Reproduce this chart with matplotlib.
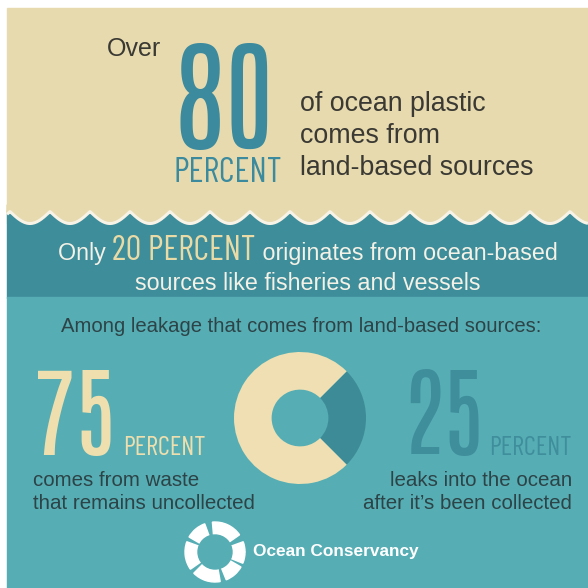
import numpy as np
import matplotlib
matplotlib.use("Agg")
import matplotlib.pyplot as plt
from matplotlib.patches import Rectangle, Polygon, Wedge, Circle
from matplotlib.textpath import TextPath
from matplotlib.font_manager import FontProperties

# headline figures
land_share = 80
ocean_share = 20
# split of land-based leakage
leak_labels = ["uncollected", "collected"]
leak_values = [75, 25]

head_lines = ["of ocean plastic", "comes from", "land-based sources"]
band_lines = ["originates from ocean-based", "sources like fisheries and vessels"]
among_text = "Among leakage that comes from land-based sources:"
left_lines = ["comes from waste", "that remains uncollected"]
right_lines = ["leaks into the ocean", "after it\u2019s been collected"]

BEIGE = "#e7daae"
DARK = "#3e8d9b"
LIGHT = "#56aeb4"
BLUE80 = "#3b8a9e"
INK = "#3a3933"
INK2 = "#2c4347"
CREAM = "#efdfae"
TEAL25 = "#3f8e9c"

NUM = ["Antonio", "DejaVu Sans"]
COND = ["Barlow Condensed", "DejaVu Sans"]
SANS = ["Liberation Sans", "DejaVu Sans"]


def ink(s, family, weight="normal"):
    tp = TextPath((0, 0), s, size=100, prop=FontProperties(family=family, weight=weight))
    return tp.get_extents()


def size_for_height(s, px, family=COND, weight="normal"):
    return px * 0.72 * 100 / ink(s, family, weight).height


def size_for_width(s, px, family=SANS, weight="normal"):
    return px * 0.72 * 100 / ink(s, family, weight).width


fig = plt.figure(figsize=(5.88, 5.88), dpi=100)
fig.patch.set_facecolor("white")
ax = fig.add_axes([0, 0, 1, 1])
ax.set_xlim(0, 588)
ax.set_ylim(588, 0)
ax.axis("off")

# backgrounds
ax.add_patch(Rectangle((7, 8), 581, 215, color=BEIGE, zorder=0))
ax.add_patch(Rectangle((7, 210), 581, 88, color=DARK, zorder=0))
ax.add_patch(Rectangle((7, 297), 581, 291, color=LIGHT, zorder=0))

# scalloped edge of the beige panel
wx = np.linspace(7, 588, 800)
wy = 210 + 12 * np.abs(np.sin(np.pi * (wx - 10) / 40))
ax.add_patch(Polygon(np.column_stack([np.r_[wx, 588, 7], np.r_[wy, 205, 205]]),
                     closed=True, color=BEIGE, zorder=1))
ax.plot(wx, wy + 1.5, color="#f7f3e6", lw=2.2, zorder=2, solid_capstyle="butt")

# top block
ax.text(107, 56, "Over", fontsize=18, family=SANS, color=INK, va="baseline")
f80 = size_for_height(str(land_share), 106, family=NUM)
ax.text(174, 148, str(land_share), fontsize=f80, family=NUM, color=BLUE80, va="baseline")
fp = size_for_width("PERCENT", 105, family=COND)
ax.text(174, 182, "PERCENT", fontsize=fp, family=COND, color=BLUE80, va="baseline")
fh = size_for_width(head_lines[0], 184)
for i, line in enumerate(head_lines):
    ax.text(300, 111 + 32 * i, line, fontsize=fh, family=SANS, color=INK, va="baseline")

# band text, first line built from pieces
fig.canvas.draw()
renderer = fig.canvas.get_renderer()
fb = size_for_width(band_lines[1], 343)
pieces = [("Only ", SANS, fb, "#f4f1e6"),
          (f"{ocean_share} PERCENT", COND, size_for_width("20 PERCENT", 141, family=COND),
           "#eadba6"),
          (" " + band_lines[0], SANS, fb, "#f4f1e6")]
texts = []
for s, fam, fs, col in pieces:
    texts.append(ax.text(0, 260, s, fontsize=fs, family=fam, color=col, va="baseline"))
widths = [t.get_window_extent(renderer).width for t in texts]
x = 308 - sum(widths) / 2
for t, w in zip(texts, widths):
    t.set_x(x)
    x += w
ax.text(308, 290, band_lines[1], fontsize=fb, family=SANS, color="#f4f1e6",
        ha="center", va="baseline")

# lower panel
fa = size_for_width(among_text, 478)
ax.text(301, 332, among_text, fontsize=fa, family=SANS, color=INK2, ha="center", va="baseline")

f75 = size_for_height("75", 85, family=NUM)
ax.text(34, 455, str(leak_values[0]), fontsize=f75, family=NUM, color=CREAM, va="baseline")
fps = size_for_width("PERCENT", 80, family=COND)
ax.text(123, 455, "PERCENT", fontsize=fps, family=COND, color=CREAM, va="baseline")
ax.text(402, 455, str(leak_values[1]), fontsize=f75, family=NUM, color=TEAL25, va="baseline")
ax.text(572, 455, "PERCENT", fontsize=fps, family=COND, color=TEAL25, ha="right", va="baseline")

fl = size_for_width(left_lines[1], 220)
for i, line in enumerate(left_lines):
    ax.text(33, 486 + 23 * i, line, fontsize=fl, family=SANS, color=INK2, va="baseline")
for i, line in enumerate(right_lines):
    ax.text(572, 486 + 23 * i, line, fontsize=fl, family=SANS, color=INK2,
            ha="right", va="baseline")

# donut
cx, cy, r = 300, 418, 66
dax = fig.add_axes([(cx - r) / 588, (588 - cy - r) / 588, 2 * r / 588, 2 * r / 588])
dax.pie(leak_values[::-1], colors=["#3e8b98", "#efdfb2"], startangle=-45,
        radius=1, wedgeprops=dict(width=0.57, edgecolor="none"))
dax.set_xlim(-1, 1)
dax.set_ylim(-1, 1)
dax.set_aspect("equal")
dax.axis("off")

# logo: broken ring of white pieces
gaps = [(20, 35), (95, 110), (150, 160), (215, 225), (280, 292), (330, 338)]
start = 0
for a0, a1 in gaps:
    ax.add_patch(Wedge((215, 552), 30, -a0, -start, width=13, color="white", zorder=3))
    start = a1
ax.add_patch(Wedge((215, 552), 30, -360, -start, width=13, color="white", zorder=3))
ax.add_patch(Circle((215, 552), 17, color=LIGHT, zorder=4))
fo = size_for_width("Ocean Conservancy", 165, weight="bold")
ax.text(253, 556, "Ocean Conservancy", fontsize=fo, family=SANS, weight="bold",
        color="white", va="baseline")

fig.savefig("out.png", dpi=100, facecolor=fig.get_facecolor())
